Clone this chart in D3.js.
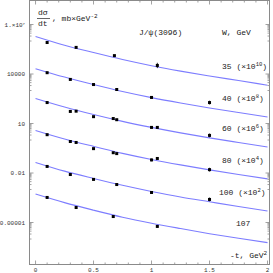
<!DOCTYPE html>
<html>
<head>
<meta charset="utf-8">
<script src="https://cdn.jsdelivr.net/npm/d3@7"></script>
<style>
body{margin:0;background:#fff;}
text{font-family:"Liberation Mono",monospace;fill:#222;}
.tick-lbl{font-size:6px;fill:#333;}
.lbl{font-size:8px;}
</style>
</head>
<body>
<div id="chart"></div>
<script>
// curve grid in -t, GeV^2
var tGrid=[0,0.25,0.5,0.75,1,1.25,1.5,1.75,2];
var energies=["35","40","60","80","100","107"];
var scaleExp=[10,8,6,4,2,0];

// fitted curves (already multiplied by 10^scaleExp)
var curve35=[1.9e6,5.6e5,2.0e5,7.6e4,3.2e4,1.5e4,7.6e3,4.0e3,2.1e3];
var curve40=[2.1e4,6.5e3,2.3e3,870,370,174,87,46,25];
var curve60=[330,100,35,13.5,5.8,2.7,1.35,0.71,0.38];
var curve80=[3.8,1.15,0.41,0.155,0.066,0.031,0.0155,0.0081,0.0044];
var curve100=[0.044,0.013,0.0047,0.0018,7.6e-4,3.5e-4,1.8e-4,9.3e-5,5.0e-5];
var curve107=[5.3e-4,1.6e-4,5.6e-5,2.1e-5,9.1e-6,4.3e-6,2.1e-6,1.1e-6,6.0e-7];

// measured points
var pts35t=[0.10,0.35,0.68,1.05];
var pts35v=[8.1e5,4.1e5,1.3e5,3.3e4];
var pts35e=[0.1,0.1,0.1,0.45];
var pts40t=[0.10,0.30,0.50,0.70,1.0,1.5];
var pts40v=[1.2e4,4.7e3,2.3e3,1.15e3,380,186];
var pts40e=[0.1,0.1,0.1,0.1,0.15,0.3];
var pts60t=[0.10,0.30,0.35,0.50,0.67,0.70,1.0,1.05,1.5];
var pts60v=[186,54,56,26,20,17,5.8,5.8,1.9];
var pts60e=[0.15,0.1,0.1,0.1,0.1,0.1,0.15,0.15,0.3];
var pts80t=[0.10,0.30,0.35,0.50,0.67,0.70,1.0,1.05,1.5];
var pts80v=[2.1,0.81,0.71,0.30,0.17,0.15,0.062,0.076,0.016];
var pts80e=[0.1,0.1,0.1,0.1,0.1,0.1,0.2,0.2,0.3];
var pts100t=[0.10,0.30,0.50,0.70,1.0,1.5];
var pts100v=[0.025,0.0081,0.0041,0.0020,6.6e-4,2.5e-4];
var pts100e=[0.1,0.1,0.1,0.1,0.15,0.3];
var pts107t=[0.10,0.35,0.67,1.05];
var pts107v=[3.3e-4,8.1e-5,2.3e-5,5.8e-6];
var pts107e=[0.1,0.1,0.1,0.2];

var yTickExp=[-5,-2,1,4,7];
var yTickLbl=["0.00001","0.01","10","10000","1.×10"];
var xTicks=[0,0.5,1,1.5,2];
var xTickLbl=["0","0.5","1","1.5","2"];

var curves=[curve35,curve40,curve60,curve80,curve100,curve107];
var ptsT=[pts35t,pts40t,pts60t,pts80t,pts100t,pts107t];
var ptsV=[pts35v,pts40v,pts60v,pts80v,pts100v,pts107v];
var ptsE=[pts35e,pts40e,pts60e,pts80e,pts100e,pts107e];

var width=273,height=273;
var margin={top:0.5,right:3.5,bottom:8.5,left:29.5};

var svg=d3.select('#chart')
		.append('svg')
		.attr('width',width)
		.attr('height',height);

/***** scales ************************/
var x=d3.scaleLinear()
		.domain([-0.052,2.017])
		.range([margin.left,width-margin.right]);
var y=d3.scaleLog()
		.domain([Math.pow(10,-7.545),Math.pow(10,8.455)])
		.range([height-margin.bottom,margin.top]);

var plot=svg.append('g');

// curves
var line=d3.line()
		.x(function(d){return x(d.t)})
		.y(function(d){return y(d.v)})
		.curve(d3.curveMonotoneX);

curves.forEach(function(c){
	var rows=tGrid.map(function(t,i){return {t:t,v:c[i]}});
	plot.append('path')
		.datum(rows)
		.attr('d',line)
		.attr('fill','none')
		.attr('stroke','#7d7dff')
		.attr('stroke-width',1.1);
});

// points with error bars
ptsT.forEach(function(ts,k){
	var rows=ts.map(function(t,i){return {t:t,v:ptsV[k][i],e:ptsE[k][i]}});
	plot.selectAll('.err'+k)
		.data(rows)
		.enter()
		.append('line')
		.attr('x1',function(d){return x(d.t)})
		.attr('x2',function(d){return x(d.t)})
		.attr('y1',function(d){return y(d.v*(1+d.e))})
		.attr('y2',function(d){return y(d.v/(1+d.e))})
		.attr('stroke','#000')
		.attr('stroke-width',0.8);
	plot.selectAll('.pt'+k)
		.data(rows)
		.enter()
		.append('rect')
		.attr('x',function(d){return x(d.t)-1.5})
		.attr('y',function(d){return y(d.v)-1.5})
		.attr('width',3)
		.attr('height',3)
		.attr('fill','#000');
});

/***** frame and ticks ************************/
var x0=x.range()[0],x1=x.range()[1],y0=y.range()[0],y1=y.range()[1];
svg.append('rect')
	.attr('x',x0).attr('y',y1)
	.attr('width',x1-x0).attr('height',y0-y1)
	.attr('fill','none')
	.attr('stroke','#8a8a8a')
	.attr('stroke-width',1);

var xMinor=d3.range(0,2.01,0.1);
var tk=svg.append('g').attr('stroke','#8a8a8a').attr('stroke-width',0.8);
xMinor.forEach(function(t){
	var major=xTicks.some(function(m){return Math.abs(m-t)<1e-6});
	var len=major?4:2;
	tk.append('line').attr('x1',x(t)).attr('x2',x(t)).attr('y1',y0).attr('y2',y0-len);
	tk.append('line').attr('x1',x(t)).attr('x2',x(t)).attr('y1',y1).attr('y2',y1+len);
});
yTickExp.forEach(function(e){
	var vals=[Math.pow(10,e)];
	for(var m=1;m<10;m++){vals.push(m*Math.pow(10,e-1));}
	vals.forEach(function(v,i){
		var len=i===0?4:2;
		tk.append('line').attr('x1',x0).attr('x2',x0+len).attr('y1',y(v)).attr('y2',y(v));
		tk.append('line').attr('x1',x1).attr('x2',x1-len).attr('y1',y(v)).attr('y2',y(v));
	});
});

// tick labels
svg.selectAll('.xl')
	.data(xTicks)
	.enter()
	.append('text')
	.attr('class','tick-lbl')
	.attr('x',function(d){return x(d)})
	.attr('y',y0+7.5)
	.attr('text-anchor','middle')
	.text(function(d,i){return xTickLbl[i]});

var yl=svg.selectAll('.yl')
	.data(yTickExp)
	.enter()
	.append('text')
	.attr('class','tick-lbl')
	.attr('x',25)
	.attr('y',function(d){return y(Math.pow(10,d))+2})
	.attr('text-anchor','end');
yl.append('tspan').text(function(d,i){return yTickLbl[i]});
yl.filter(function(d){return d===7})
	.append('tspan').attr('dy',-2).style('font-size','4px').text('7');

/***** annotations ************************/
svg.append('text').attr('class','lbl').attr('x',38).attr('y',15).text('dσ');
svg.append('line').attr('x1',37).attr('x2',50).attr('y1',18.5).attr('y2',18.5).attr('stroke','#222').attr('stroke-width',0.7);
svg.append('text').attr('class','lbl').attr('x',38).attr('y',26).text('dt');
var unit=svg.append('text').attr('class','lbl').attr('x',52).attr('y',21);
unit.append('tspan').text(', mb×GeV');
unit.append('tspan').attr('dy',-3).style('font-size','6px').text('-2');

svg.append('text').attr('class','lbl').attr('x',139).attr('y',35).text('J/ψ(3096)');
svg.append('text').attr('class','lbl').attr('x',222).attr('y',35).text('W, GeV');

energies.forEach(function(w,k){
	var tLbl=1.62,v=curves[k][6]*4.2;
	var t=svg.append('text').attr('class','lbl')
		.attr('x',scaleExp[k]?(w.length>2?219:222):236)
		.attr('y',y(v)+3);
	t.append('tspan').text(w);
	if(scaleExp[k]){
		t.append('tspan').text(' (×10');
		t.append('tspan').attr('dy',-3).style('font-size','5.5px').text(scaleExp[k]);
		t.append('tspan').attr('dy',3).text(')');
	}
});

var xa=svg.append('text').attr('class','lbl').attr('x',230).attr('y',258);
xa.append('tspan').text('-t, GeV');
xa.append('tspan').attr('dy',-3).style('font-size','6px').text('2');
</script>
</body>
</html>
